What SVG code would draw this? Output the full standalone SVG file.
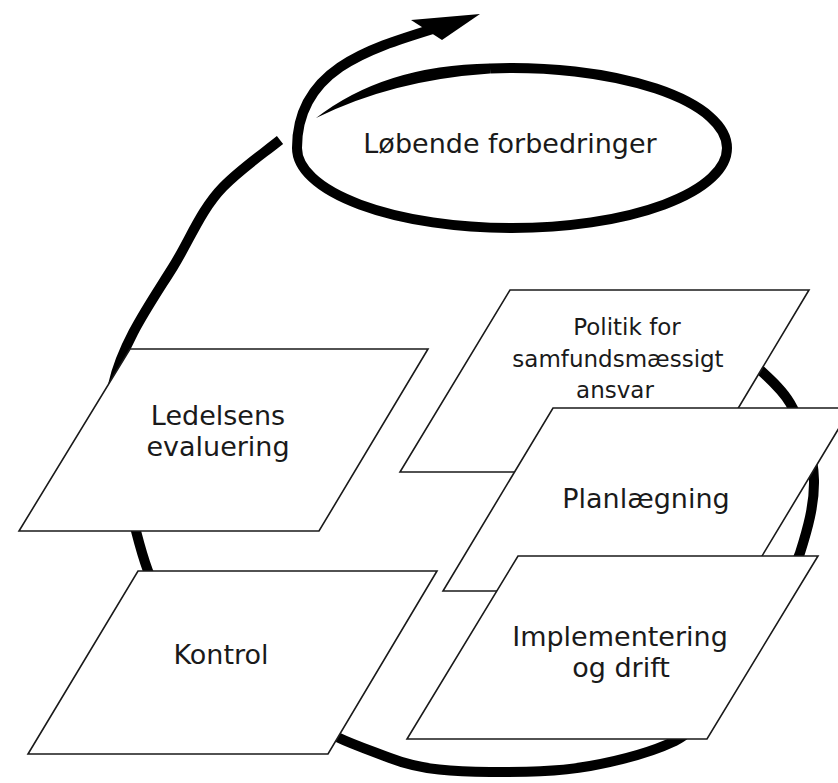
<svg xmlns="http://www.w3.org/2000/svg" width="838" height="783" viewBox="0 0 838 783">
<style>
.box{fill:#fff;stroke:#1a1a1a;stroke-width:1.6;stroke-linejoin:miter}
.lbl{font-family:"DejaVu Sans","Liberation Sans",sans-serif;font-size:27px;fill:#1a1a1a;text-anchor:middle}
.sm{font-size:23px}
.loop{fill:none;stroke:#000;stroke-width:10}
.ink{fill:#000;stroke:none}
</style>
<rect width="838" height="783" fill="#fff"/>
<g id="connectors">
<path class="loop" d="M 748,358 C 761.6,372.6 780,385.6 790,403 C 803.5,426.5 813.5,453 814,480 C 814.5,505 807.5,529.3 800,553 C 786,590.6 720,719.5 675,741 C 648.4,753.7 618.9,760.7 590,766 C 557.2,772 523.5,772 490,772 C 456.2,772 421.4,770.2 390,758 C 372.3,751.2 354.1,745.2 337,737 C 261,701 177,650 148,571 C 143.1,557.8 139.5,544.6 136,531 C 128.5,502.1 113.5,474.8 111,445 C 110,425 110,404.6 113,385 C 122.8,341.9 149.7,304.4 173,267 C 189.6,240.3 201,209.6 223,187 C 240.2,169.3 260.8,155.3 280,140"/>
</g>
<g id="politik">
<polygon class="box" points="510,290 809,290 700,472 400,472"/>
<text class="lbl sm" x="627" y="335">Politik for</text>
<text class="lbl sm" x="618" y="367">samfundsmæssigt</text>
<text class="lbl sm" x="615" y="398">ansvar</text>
</g>
<g id="planlaegning">
<polygon class="box" points="553,408 851,408 741,591 443,591"/>
<text class="lbl" x="646" y="508">Planlægning</text>
</g>
<g id="implementering">
<polygon class="box" points="518,556 818,556 707,739 407,739"/>
<text class="lbl" x="620" y="646">Implementering</text>
<text class="lbl" x="621" y="677">og drift</text>
</g>
<g id="ledelsens">
<polygon class="box" points="130,349 428,349 319,531 19,531"/>
<text class="lbl" x="218" y="425">Ledelsens</text>
<text class="lbl" x="218" y="456">evaluering</text>
</g>
<g id="kontrol">
<polygon class="box" points="138,571 437,571 328,754 28,754"/>
<text class="lbl" x="221" y="664">Kontrol</text>
</g>
<g id="loebende">
<path class="loop" d="M 490,68.4 A 215 80 0 0 1 727,148 A 215 80 0 0 1 512,228 A 215 80 0 0 1 297,148 C 297,70 368,49 436,28"/>
<path class="ink" d="M 490,63.4 Q 384,65 316,118 Q 392,80 490,73.4 Z"/>
<polygon class="ink" points="480,14 411,20 442,40"/>
<text class="lbl" x="510" y="153">Løbende forbedringer</text>
</g>
</svg>
